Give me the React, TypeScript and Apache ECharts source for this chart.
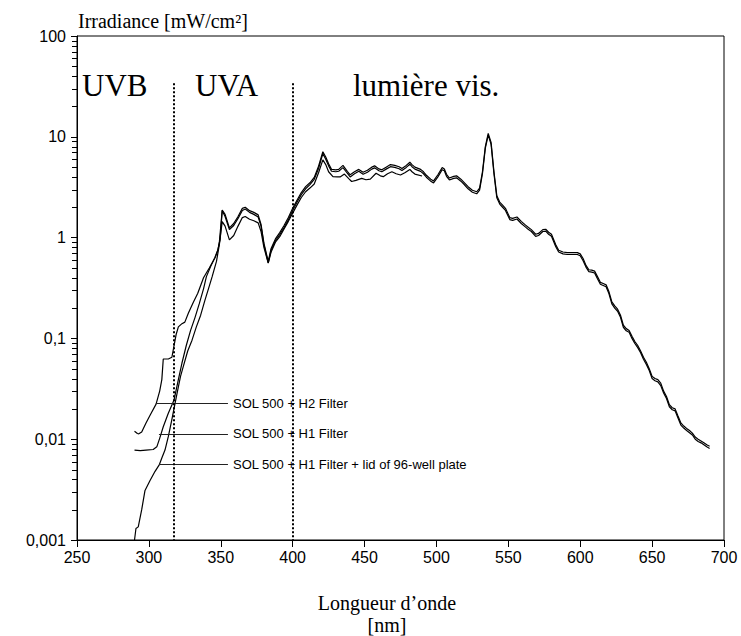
import React, { useEffect, useRef } from "react";
import * as echarts from "echarts";

// ---- Data ----
const wlH2Uv = [290, 292, 293, 295, 298, 301, 305, 307.5, 309, 310, 313.5, 316, 317.5, 319, 320.5, 323, 325, 327.5, 331, 334, 338, 342, 346, 348, 349, 351];
const irrH2Uv = [0.012, 0.0114, 0.0113, 0.0118, 0.0145, 0.0175, 0.0223, 0.03, 0.039, 0.0625, 0.0625, 0.065, 0.085, 0.11, 0.13, 0.14, 0.145, 0.179, 0.23, 0.28, 0.4, 0.5, 0.63, 0.75, 0.9, 1.88];

const wlH1Uv = [290, 294, 298, 303, 305.5, 307.5, 310, 313.5, 317.5, 320.5, 323, 326, 329, 332, 335, 338, 340, 343, 346, 348, 349.5, 351];
const irrH1Uv = [0.0078, 0.0077, 0.0078, 0.0079, 0.0084, 0.0102, 0.0133, 0.0181, 0.0245, 0.039, 0.057, 0.085, 0.12, 0.16, 0.22, 0.31, 0.41, 0.52, 0.64, 0.76, 0.95, 1.85];

const wlVis = [353, 356, 359, 362, 365, 367, 370, 373, 376, 378, 380, 383, 385, 388, 391, 394, 397, 400, 403, 406, 409, 412, 415, 418, 421, 423, 425, 427, 430, 432, 435, 438, 440, 443, 446, 449, 452, 455, 457, 460, 462, 465, 468, 471, 474, 476, 479, 481.5, 483, 485, 489, 491, 493, 496, 498, 501, 504, 505.5, 507, 509, 512, 514, 517, 519, 522, 525, 528, 530, 532, 534, 536, 538, 540, 542, 544, 546, 548, 551, 553, 556, 559, 562, 564, 566, 569, 571, 574, 576, 578, 580, 583, 585, 588, 591, 595, 598, 600, 602, 604, 606, 608, 610, 612, 614, 616, 618, 620, 622, 624, 626, 628, 630, 632, 634, 636, 638, 640, 642, 644, 646, 648, 650, 652, 654, 656, 658, 660, 662, 664, 666, 668, 670, 672, 674, 676, 678, 680, 682, 684, 686, 688, 690];
const irrH2Vis = [1.7, 1.25, 1.38, 1.62, 1.95, 2.0, 1.85, 1.78, 1.68, 1.35, 0.88, 0.58, 0.78, 0.97, 1.12, 1.32, 1.58, 1.95, 2.35, 2.8, 3.2, 3.5, 3.95, 5.1, 7.1, 6.3, 5.4, 4.75, 4.7, 4.75, 5.2, 4.55, 4.2, 4.5, 4.75, 4.45, 4.65, 5.0, 5.15, 4.8, 4.7, 5.0, 5.3, 5.2, 5.05, 4.85, 5.2, 5.6, 5.3, 5.0, 4.75, 4.5, 4.15, 3.8, 3.65, 4.2, 4.95, 4.8, 4.25, 3.9, 4.05, 4.1, 3.8, 3.55, 3.2, 2.95, 2.85, 3.1, 4.5, 8.0, 10.8, 8.8, 4.5, 2.6, 2.25, 2.1, 1.95, 1.58, 1.55, 1.6, 1.45, 1.33, 1.26, 1.2, 1.08, 1.1, 1.2, 1.21, 1.13, 1.08, 0.85, 0.75, 0.72, 0.71, 0.71, 0.71, 0.69, 0.62, 0.53, 0.48, 0.475, 0.465, 0.41, 0.36, 0.35, 0.34, 0.29, 0.23, 0.21, 0.195, 0.17, 0.135, 0.125, 0.12, 0.105, 0.093, 0.085, 0.075, 0.065, 0.058, 0.05, 0.042, 0.04, 0.039, 0.036, 0.03, 0.0265, 0.022, 0.0205, 0.02, 0.017, 0.0145, 0.0135, 0.0128, 0.0122, 0.0115, 0.0105, 0.01, 0.0096, 0.0092, 0.0088, 0.0085];
const irrH1Vis = [1.62, 1.2, 1.32, 1.55, 1.86, 1.92, 1.78, 1.7, 1.6, 1.3, 0.85, 0.56, 0.75, 0.93, 1.07, 1.26, 1.5, 1.86, 2.24, 2.67, 3.05, 3.35, 3.78, 4.85, 6.8, 6.0, 5.15, 4.55, 4.5, 4.55, 4.95, 4.35, 4.0, 4.3, 4.55, 4.25, 4.45, 4.78, 4.92, 4.6, 4.5, 4.78, 5.05, 4.97, 4.82, 4.63, 4.97, 5.35, 5.05, 4.78, 4.54, 4.3, 3.97, 3.63, 3.49, 4.0, 4.72, 4.6, 4.06, 3.73, 3.87, 3.92, 3.63, 3.4, 3.05, 2.82, 2.72, 2.96, 4.3, 7.7, 10.4, 8.4, 4.3, 2.48, 2.15, 2.0, 1.86, 1.51, 1.48, 1.53, 1.38, 1.27, 1.2, 1.15, 1.03, 1.05, 1.15, 1.16, 1.08, 1.03, 0.81, 0.72, 0.69, 0.68, 0.68, 0.68, 0.66, 0.59, 0.51, 0.46, 0.455, 0.445, 0.39, 0.345, 0.335, 0.325, 0.277, 0.22, 0.2, 0.186, 0.162, 0.129, 0.119, 0.115, 0.1, 0.089, 0.081, 0.072, 0.062, 0.055, 0.048, 0.04, 0.038, 0.037, 0.034, 0.0287, 0.0253, 0.021, 0.0196, 0.0191, 0.0162, 0.0138, 0.0129, 0.0122, 0.0116, 0.011, 0.01, 0.0095, 0.0092, 0.0088, 0.0084, 0.0081];

const wlLid = [290, 291, 292.6, 295, 297.3, 300.8, 304.3, 307.3, 309, 311.2, 313.5, 315.9, 318.2, 320.5, 322, 324, 327, 330, 333, 336, 339, 342, 344, 347, 349, 351, 353, 356, 359, 362, 365, 367, 370, 373, 376, 378, 380, 383, 385, 388, 391, 394, 397, 400, 403, 406, 409, 412, 415, 418, 421, 423, 425, 428, 431, 433, 436, 439, 441, 444, 448, 451, 454, 458, 461, 463, 466, 469, 472, 475, 478, 481.5, 483, 485, 490];
const irrLid = [0.001, 0.0013, 0.00135, 0.002, 0.0031, 0.0039, 0.0048, 0.0056, 0.0065, 0.0078, 0.0106, 0.0155, 0.0227, 0.033, 0.042, 0.053, 0.075, 0.096, 0.13, 0.17, 0.24, 0.33, 0.41, 0.58, 0.85, 1.44, 1.3, 0.95, 1.05, 1.3, 1.58, 1.62, 1.52, 1.47, 1.4, 1.15, 0.8, 0.56, 0.72, 0.9, 1.02, 1.22, 1.45, 1.75, 2.1, 2.5, 2.85, 3.1, 3.4, 4.4, 5.9, 5.3, 4.5, 4.02, 4.0, 4.0, 4.27, 3.85, 3.6, 3.7, 3.87, 3.75, 3.8, 4.35, 4.1, 4.02, 4.3, 4.5, 4.3, 4.18, 4.4, 4.75, 4.5, 4.27, 4.08];

const xTicks = { min: 250, max: 700, step: 50 };
const yRange = { min: 0.001, max: 100 };
const bandEdges = [317, 400];
const bandTop = 34;
const bandLabels = ["UVB", "UVA", "lumière vis."];
const seriesNames = ["SOL 500 + H2 Filter", "SOL 500 + H1 Filter", "SOL 500 + H1 Filter + lid of 96-well plate"];
const leaderAnchors = [
  { from: 305, to: 355, y: 0.0225 },
  { from: 307, to: 355, y: 0.0113 },
  { from: 307, to: 355, y: 0.0056 },
];

const zip = (xs: number[], ys: number[]) => xs.slice(0, Math.min(xs.length, ys.length)).map((x, i) => [x, ys[i]]);

const SANS = '"Liberation Sans", Arial, sans-serif';
const SERIF = '"Liberation Serif", "Times New Roman", serif';

export default function App() {
  const ref = useRef<HTMLDivElement>(null);
  useEffect(() => {
    if (!ref.current) return;
    const chart = echarts.init(ref.current, undefined, { renderer: "svg" });
    const dataH2 = [...zip(wlH2Uv, irrH2Uv), ...zip(wlVis, irrH2Vis)];
    const dataH1 = [...zip(wlH1Uv, irrH1Uv), ...zip(wlVis, irrH1Vis)];
    const dataLid = zip(wlLid, irrLid);

    const leader = (i: number) => ({
      silent: true,
      symbol: ["none", "none"],
      animation: false,
      lineStyle: { color: "#222", width: 1, type: "solid" },
      label: {
        show: true,
        position: "end",
        distance: 5,
        formatter: seriesNames[i],
        color: "#000",
        fontFamily: SANS,
        fontSize: 13,
      },
      data: [[{ coord: [leaderAnchors[i].from, leaderAnchors[i].y] }, { coord: [leaderAnchors[i].to, leaderAnchors[i].y] }]],
    });

    const lineStyle = { color: "#000", width: 1.2 };
    const option: any = {
      animation: false,
      grid: { left: 77, top: 36, right: 17, bottom: 96, show: true, borderColor: "#000", borderWidth: 1, backgroundColor: "transparent" },
      xAxis: {
        type: "value",
        min: xTicks.min,
        max: xTicks.max,
        interval: xTicks.step,
        axisLine: { show: true, lineStyle: { color: "#000", width: 1 } },
        axisTick: { show: true, length: 7, lineStyle: { color: "#000" } },
        axisLabel: { color: "#000", fontFamily: SANS, fontSize: 16, margin: 9 },
        splitLine: { show: false },
      },
      yAxis: {
        type: "log",
        logBase: 10,
        min: yRange.min,
        max: yRange.max,
        axisLine: { show: true, lineStyle: { color: "#000", width: 1 } },
        axisTick: { show: true, length: 6, lineStyle: { color: "#000" } },
        axisLabel: {
          color: "#000",
          fontFamily: SANS,
          fontSize: 16,
          margin: 11,
          formatter: (v: number) => String(Number(v.toPrecision(3))).replace(".", ","),
        },
        splitLine: { show: false },
      },
      series: [
        {
          name: seriesNames[0],
          type: "line",
          data: dataH2,
          showSymbol: false,
          symbol: "none",
          lineStyle,
          z: 3,
          markLine: leader(0),
        },
        {
          name: seriesNames[1],
          type: "line",
          data: dataH1,
          showSymbol: false,
          symbol: "none",
          lineStyle,
          z: 3,
          markLine: leader(1),
        },
        {
          name: seriesNames[2],
          type: "line",
          data: dataLid,
          showSymbol: false,
          symbol: "none",
          lineStyle,
          z: 3,
          markLine: leader(2),
        },
        {
          name: "bands",
          type: "line",
          data: [],
          markLine: {
            silent: true,
            symbol: ["none", "none"],
            animation: false,
            label: { show: false },
            lineStyle: { color: "#000", width: 2, type: [2, 2] },
            data: bandEdges.map((e) => [{ coord: [e, bandTop] }, { coord: [e, yRange.min] }]),
          },
        },
      ],
    };
    chart.setOption(option);

    // minor ticks of the log axis (2..9 per decade), placed through the axis scale
    const axisX = chart.convertToPixel({ xAxisIndex: 0 }, xTicks.min) as number;
    const elements: any[] = [];
    for (let d = -3; d <= 1; d++) {
      for (let k = 2; k <= 9; k++) {
        const v = k * Math.pow(10, d);
        const py = chart.convertToPixel({ yAxisIndex: 0 }, v) as number;
        elements.push({
          type: "line",
          silent: true,
          shape: { x1: axisX - 5, y1: Math.round(py) + 0.5, x2: axisX, y2: Math.round(py) + 0.5 },
          style: { stroke: "#000", lineWidth: 1 },
        });
      }
    }
    const txt = (text: string, x: number, y: number, size: number, align = "left") => ({
      type: "text",
      silent: true,
      x,
      y,
      style: { text, font: `${size}px ${SERIF}`, fill: "#000", align, verticalAlign: "middle" },
    });
    elements.push(txt("Irradiance [mW/cm²]", 78, 21, 20));
    elements.push(txt(bandLabels[0], 82, 85, 31));
    elements.push(txt(bandLabels[1], 195, 85, 31));
    elements.push(txt(bandLabels[2], 353, 85, 31));
    elements.push(txt("Longueur d’onde", 387, 603, 20, "center"));
    elements.push(txt("[nm]", 387, 625, 20, "center"));
    chart.setOption({ graphic: { elements } });

    return () => chart.dispose();
  }, []);
  return <div ref={ref} style={{ position: "absolute", left: 0, top: 0, width: 741, height: 636, background: "#fff" }} />;
}
